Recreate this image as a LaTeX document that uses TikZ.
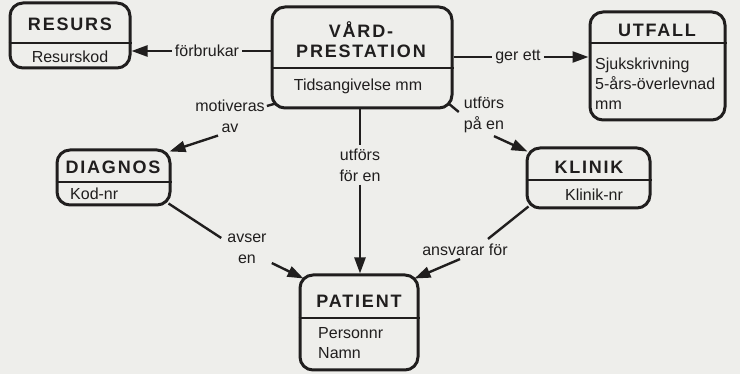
\documentclass[tikz,border=0pt]{standalone}
\usepackage{fontspec}
\setmainfont{Liberation Sans}
\newfontfamily\tfont[LetterSpace=10]{Liberation Sans}
\usetikzlibrary{arrows.meta,calc}
\definecolor{bg}{RGB}{238,238,235}
\definecolor{ink}{RGB}{32,30,30}
\begin{document}
\begin{tikzpicture}[x=1pt,y=-1pt,
  box/.style={draw=ink,line width=3pt,rounded corners=13pt,rectangle,inner sep=0pt},
  title/.style={font=\tfont\bfseries\fontsize{18}{20}\selectfont,text=ink,align=center,inner sep=0pt},
  body/.style={font=\fontsize{16}{20}\selectfont,text=ink,inner sep=0pt},
  lbl/.style={font=\fontsize{16}{21}\selectfont,text=ink,align=center,inner sep=3pt},
  div/.style={draw=ink,line width=2pt},
  conn/.style={draw=ink,line width=2.4pt},
  arr/.style={conn,-{Triangle[length=16pt,width=11pt]}}
]
\fill[bg] (0,0) rectangle (740,374);
\useasboundingbox (0,0) rectangle (740,374);

% boxes
\node[box,minimum width=120pt,minimum height=65pt] (res) at (70,35.5) {};
\node[box,minimum width=180pt,minimum height=101pt] (vard) at (362,57.5) {};
\node[box,minimum width=135pt,minimum height=108pt] (utf) at (657.5,66) {};
\node[box,minimum width=113pt,minimum height=55pt] (diag) at (113.5,177.5) {};
\node[box,minimum width=123pt,minimum height=60pt] (klin) at (588.5,178) {};
\node[box,minimum width=118pt,minimum height=95pt] (pat) at (359,322.5) {};

% dividers
\coordinate (dres) at (0,43);
\coordinate (dvard) at (0,68);
\coordinate (dutf) at (0,43);
\coordinate (ddiag) at (0,182);
\coordinate (dklin) at (0,180);
\coordinate (dpat) at (0,318);
\draw[div] (res.west |- dres) -- (res.east |- dres);
\draw[div] (vard.west |- dvard) -- (vard.east |- dvard);
\draw[div] (utf.west |- dutf) -- (utf.east |- dutf);
\draw[div] (diag.west |- ddiag) -- (diag.east |- ddiag);
\draw[div] (klin.west |- dklin) -- (klin.east |- dklin);
\draw[div] (pat.west |- dpat) -- (pat.east |- dpat);

% texts
\node[title] (resT) at (70,24) {RESURS};
\node[body] (resB) at (70,57) {Resurskod};
\node[title] (vardT) at (361,40) {VÅRD-\\PRESTATION};
\node[body] (vardB) at (358,86) {Tidsangivelse mm};
\node[title] (utfT) at (657,30) {UTFALL};
\node[body,anchor=west,align=left] (utfB) at (595,84) {Sjukskrivning\\5-års-överlevnad\\mm};
\node[title] (diagT) at (113,167) {DIAGNOS};
\node[body,anchor=west] (diagB) at (70,194) {Kod-nr};
\node[title] (klinT) at (589,167) {KLINIK};
\node[body] (klinB) at (594,195) {Klinik-nr};
\node[title] (patT) at (359,301) {PATIENT};
\node[body,anchor=west,align=left] (patB) at (318,343) {Personnr\\Namn};

% labels
\node[lbl] (lf) at (207,51) {förbrukar};
\node[lbl] (lg) at (518,57) {ger ett};
\node[lbl] (lm) at (230,116) {motiveras\\av};
\node[lbl] (lu) at (360,165) {utförs\\för en};
\node[lbl] (lp) at (484,115) {utförs\\på en};
\node[lbl] (la) at (247,249) {avser\\en};
\node[lbl] (lk) at (465,250) {ansvarar för};

% connectors
\draw[conn] (vard.west |- lf) -- (lf.east);
\draw[arr] (lf.west) -- (res.east |- lf);
\draw[conn] (vard.east |- lg) -- (lg.west);
\draw[arr] (lg.east) -- (utf.west |- lg);
\draw[conn] ($(vard.south west)+(5,-6)$) -- ($(lm.east)+(-1,-10)$);
\draw[arr] ($(lm.south)+(-12,0)$) -- ($(diag.north east)+(-2,3)$);
\draw[conn] (vard.south -| lu) -- (lu.north);
\draw[arr] (lu.south) -- (pat.north -| lu);
\draw[conn] ($(vard.south east)+(-5,-6)$) -- ($(lp.west)+(-2,-3)$);
\draw[arr] ($(lp.south)+(10,0)$) -- ($(klin.north west)+(2,5)$);
\draw[conn] ($(diag.south east)+(-3,-3)$) -- ($(la.west)+(-3,-11)$);
\draw[arr] ($(la.east)+(2,14)$) -- ($(pat.north west)+(5,5)$);
\draw[conn] ($(klin.south west)+(3,-3)$) -- ($(lk.north)+(23,-2)$);
\draw[arr] ($(lk.south)+(-5,0)$) -- ($(pat.north east)+(-5,5)$);
\end{tikzpicture}
\end{document}
